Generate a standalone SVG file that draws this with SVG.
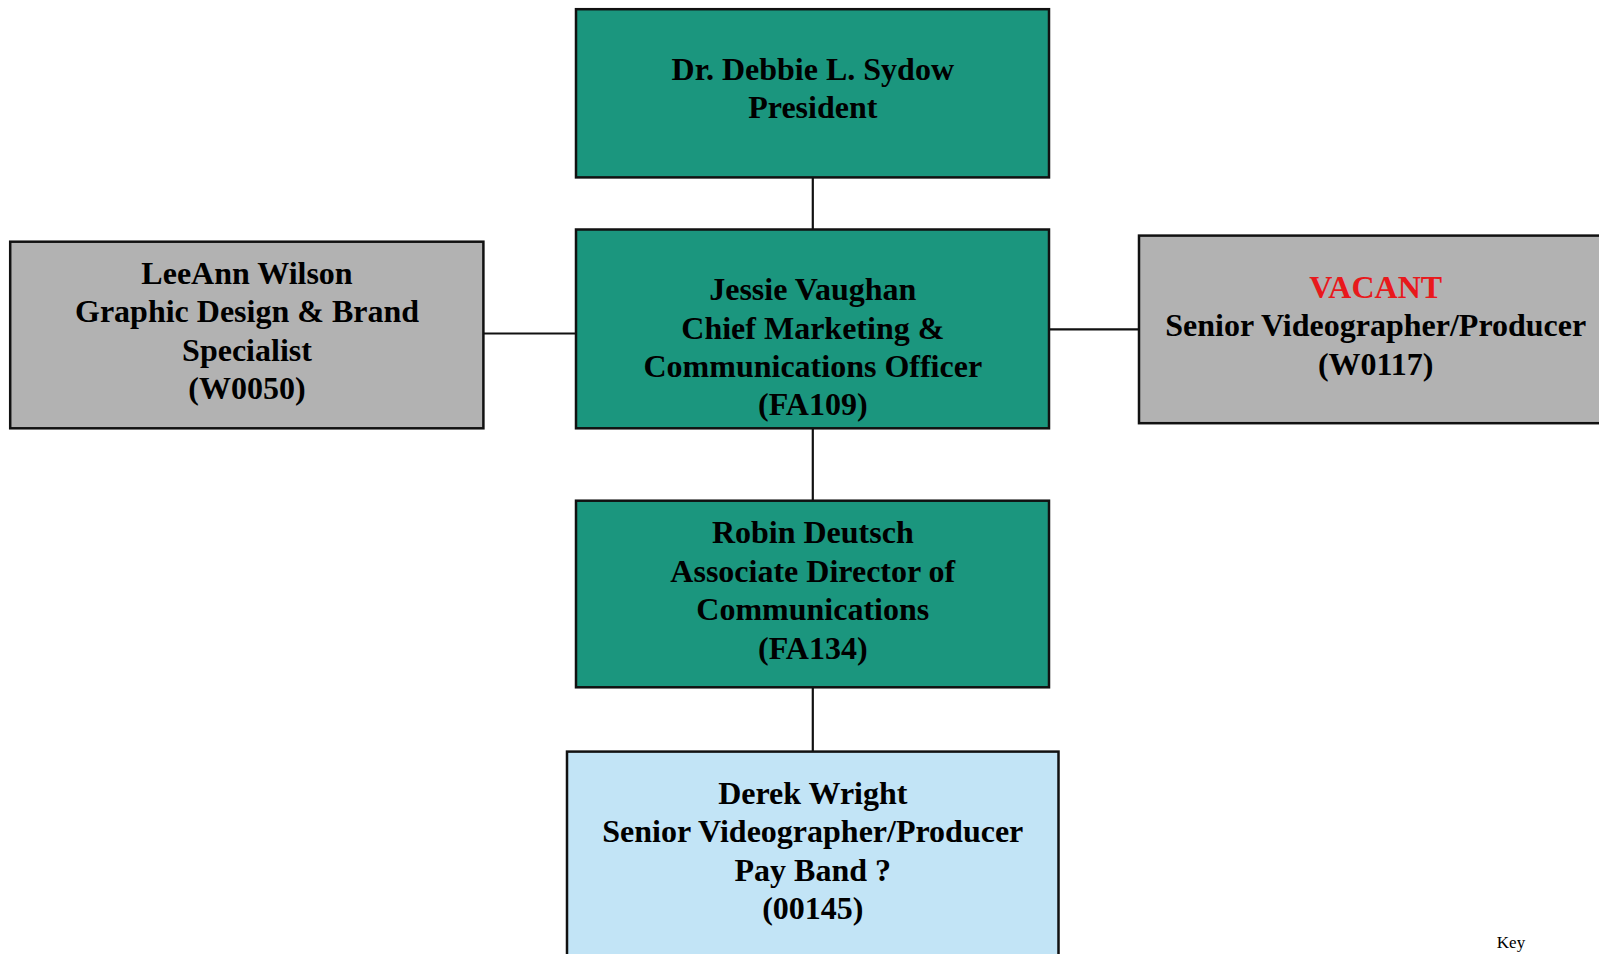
<svg xmlns="http://www.w3.org/2000/svg" width="1599" height="954" viewBox="0 0 1599 954">
<style>
.box{stroke:#111;stroke-width:2.5}
.teal{fill:#1B967E}
.gray{fill:#B2B2B2}
.blue{fill:#C2E4F6}
.t{font-family:"Liberation Serif","Times New Roman",serif;font-weight:bold;font-size:32px;fill:#000;text-anchor:middle}
.red{fill:#E8191C}
.conn{stroke:#111;stroke-width:2.2;fill:none}
.key{font-family:"Liberation Serif","Times New Roman",serif;font-size:17px;fill:#000;text-anchor:middle}
</style>
<rect width="1599" height="954" fill="#fff"/>
<g id="connectors">
<path class="conn" d="M812.8 177.4V229.5"/>
<path class="conn" d="M812.8 428.3V500.7"/>
<path class="conn" d="M812.8 687.3V751.6"/>
<path class="conn" d="M483.4 333.5H576"/>
<path class="conn" d="M1043 329.4H1139"/>
</g>
<g id="node-president">
<rect class="box teal" x="576" y="9.2" width="473" height="168.2"/>
<text class="t" x="812.8" y="79.5">Dr. Debbie L. Sydow</text>
<text class="t" x="812.8" y="118">President</text>
</g>
<g id="node-cmco">
<rect class="box teal" x="576" y="229.5" width="473" height="198.8"/>
<text class="t" x="812.8" y="300">Jessie Vaughan</text>
<text class="t" x="812.8" y="338.5">Chief Marketing &amp;</text>
<text class="t" x="812.8" y="377">Communications Officer</text>
<text class="t" x="812.8" y="415">(FA109)</text>
</g>
<g id="node-graphic">
<rect class="box gray" x="10.2" y="241.7" width="473.2" height="186.6"/>
<text class="t" x="247" y="284">LeeAnn Wilson</text>
<text class="t" x="247" y="322">Graphic Design &amp; Brand</text>
<text class="t" x="247" y="360.5">Specialist</text>
<text class="t" x="247" y="398.5">(W0050)</text>
</g>
<g id="node-vacant">
<rect class="box gray" x="1139" y="235.6" width="480" height="187.6"/>
<text class="t red" x="1375.7" y="297.5">VACANT</text>
<text class="t" x="1375.7" y="336">Senior Videographer/Producer</text>
<text class="t" x="1375.7" y="374.5">(W0117)</text>
</g>
<g id="node-assoc">
<rect class="box teal" x="576" y="500.7" width="473" height="186.6"/>
<text class="t" x="812.8" y="543">Robin Deutsch</text>
<text class="t" x="812.8" y="581.5">Associate Director of</text>
<text class="t" x="812.8" y="620">Communications</text>
<text class="t" x="812.8" y="658.5">(FA134)</text>
</g>
<g id="node-derek">
<rect class="box blue" x="567" y="751.6" width="491.5" height="230"/>
<text class="t" x="812.8" y="803.5">Derek Wright</text>
<text class="t" x="812.8" y="842">Senior Videographer/Producer</text>
<text class="t" x="812.8" y="880.5">Pay Band ?</text>
<text class="t" x="812.8" y="918.5">(00145)</text>
</g>
<text class="key" x="1511" y="948">Key</text>
</svg>
